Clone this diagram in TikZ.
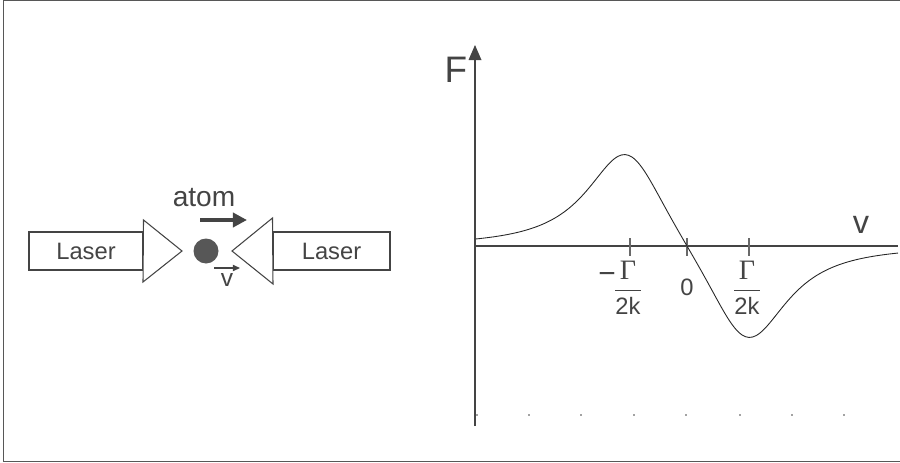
\documentclass[tikz,border=0pt]{standalone}
\usepackage{fontspec}
\setmainfont{Liberation Sans}
\newfontfamily\serifG{Liberation Serif}
\usepackage{tikz}
\usetikzlibrary{
  arrows.meta
}

\definecolor{ink}{HTML}{444444}
\newcommand{\gammafrac}{%
  $\displaystyle\frac{\mbox{\serifG\fontsize{16}{18}\selectfont Γ}}{\mbox{2k}}$}

\begin{document}
\begin{tikzpicture}[x=0.02cm,y=-0.02cm,>=Triangle,
    every node/.style={text=ink,inner sep=0pt},
    laserbox/.style={draw=ink,line width=0.6pt,minimum width=2.28cm,
      minimum height=0.76cm,font=\fontsize{13.5}{16}\selectfont},
    ticklabel/.style={font=\fontsize{13.5}{15}\selectfont}]

  \useasboundingbox (0,0) rectangle (900,463);

  % Rahmen
  \draw[ink!90,line width=1pt] (900,0.5) -- (3.5,0.5) -- (3.5,461.5) -- (900,461.5);

  % Laser links und rechts
  \node[laserbox] (laserL) at (86,251) {Laser};
  \node[laserbox,minimum width=2.34cm] (laserR) at (331.5,251) {Laser};

  % Spitzen der Strahlen
  \coordinate (tipL) at (182,251);
  \coordinate (tipR) at (232,251);
  \draw[ink,line width=0.6pt,fill=white]
    (laserL.east) ++(0,-31) -- (tipL) -- (143,282) -- cycle;
  \draw[ink,line width=0.6pt,fill=white]
    (laserR.west) ++(0,-33) -- (tipR) -- (273,284) -- cycle;

  % Atom
  \fill[ink!90] (206,251) circle (12.5);
  \node[font=\fontsize{16}{19}\selectfont,anchor=base] (atom) at (204,206) {atom};
  \coordinate (atomA) at (200,220);
  \coordinate (atomB) at (247,220);
  \draw[->,ink,line width=2.2pt,
    arrows={-Triangle[length=8pt,width=8pt]}] (atomA) -- (atomB);
  \coordinate (velA) at (214,268);
  \coordinate (velB) at (240,268);
  \draw[ink,line width=0.7pt,arrows={-Triangle[length=4pt,width=3.5pt]}]
    (velA) -- (velB);
  \node[font=\fontsize{14}{16}\selectfont] (vel) at (227,280) {v};

  % Achsen
  \coordinate (O)    at (475,246);
  \coordinate (Ftop) at (475,45);
  \coordinate (Fbot) at (475,426);
  \coordinate (vend) at (898,246);
  \draw[ink,line width=1.7pt] (Fbot) -- (475,60);
  \fill[ink] (Ftop) -- (468.5,60) -- (481.5,60) -- cycle;
  \draw[ink,line width=0.9pt] (O) -- (vend);
  \node[font=\fontsize{21}{24}\selectfont] (F) at (456,70) {F};
  \node[font=\fontsize{18.5}{22}\selectfont] (v) at (861,225) {v};

  % Teilstriche
  \foreach \xt in {630,687,749}
    \draw[ink!80,line width=0.6pt] (\xt,238) -- (\xt,256);

  \node[font=\fontsize{17}{19}\selectfont] (m) at (607,278) {−};
  \node[ticklabel] (gm) at (628,288) {\gammafrac};
  \node[ticklabel] (zero) at (687,287) {0};
  \node[ticklabel] (gp) at (747,288) {\gammafrac};

  % Punkte unten
  \foreach \xd in {477,529,581,634,686,740,792,844}
    \fill[ink] (\xd,415) circle (0.8);

  % Kraftkurve
  \draw[black!85,line width=0.5pt,smooth,samples=120,domain=-211:211]
    plot ({687+\x},
      {246-107*(1/(1+((\x+60)/50)^2)-1/(1+((\x-60)/50)^2))});

\end{tikzpicture}
\end{document}
